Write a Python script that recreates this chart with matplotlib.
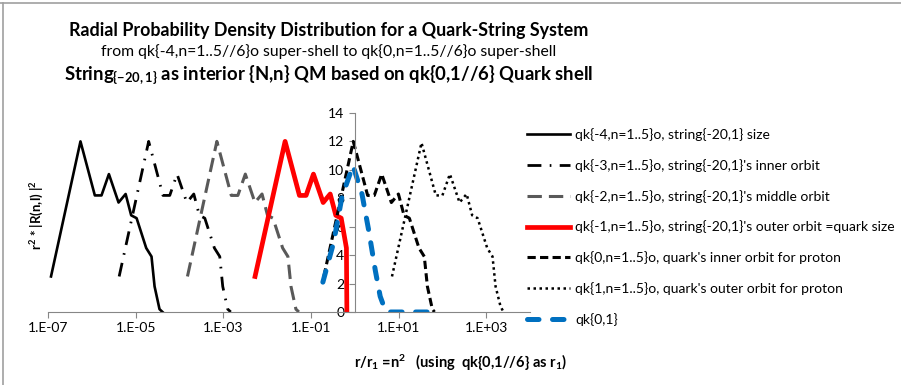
import matplotlib
matplotlib.use("Agg")
import matplotlib.pyplot as plt
from matplotlib.ticker import FixedLocator, FixedFormatter, NullLocator
from matplotlib.lines import Line2D

plt.rcParams['font.family'] = ['Lato', 'DejaVu Sans']
plt.rcParams['mathtext.fontset'] = 'custom'
plt.rcParams['mathtext.rm'] = 'Lato'
plt.rcParams['mathtext.bf'] = 'Lato:bold'
plt.rcParams['mathtext.it'] = 'Lato:italic'

# data
x_qk_m4 = [1.17e-7, 5.5e-7, 1.17e-6, 1.66e-6, 2.45e-6, 4.07e-6, 5.9e-6,
           7.9e-6, 1.05e-5, 1.74e-5, 2.3e-5, 2.7e-5, 3.5e-5, 4.1e-5]
y_qk_m4 = [2.5, 12.0, 8.2, 8.2, 9.7, 7.7, 8.3, 6.8, 6.6, 4.5, 3.9, 1.8, 0.2, 0.0]

x_qk_m3 = [4.2e-6, 1.98e-5, 4.2e-5, 6.0e-5, 8.8e-5, 1.47e-4, 2.12e-4,
           2.84e-4, 3.78e-4, 6.26e-4, 8.3e-4, 9.7e-4, 1.26e-3, 1.48e-3]
y_qk_m3 = [2.5, 12.0, 8.2, 8.2, 9.7, 7.7, 8.3, 6.8, 6.6, 4.5, 3.9, 1.8, 0.2, 0.0]

x_qk_m2 = [1.52e-4, 7.13e-4, 1.52e-3, 2.15e-3, 3.18e-3, 5.27e-3, 7.65e-3,
           1.02e-2, 1.36e-2, 2.26e-2, 2.98e-2, 3.5e-2, 4.54e-2, 5.31e-2]
y_qk_m2 = [2.5, 12.0, 8.2, 8.2, 9.7, 7.7, 8.3, 6.8, 6.6, 4.5, 3.9, 1.8, 0.2, 0.0]

x_qk_m1 = [5.3e-3, 2.57e-2, 5.46e-2, 7.74e-2, 0.114, 0.190, 0.275, 0.369,
           0.490, 0.645, 0.66]
y_qk_m1 = [2.5, 12.0, 8.2, 8.2, 9.7, 7.7, 8.3, 6.8, 6.6, 4.5, 0.0]

x_qk_0 = [0.197, 0.924, 1.965, 2.79, 4.12, 6.84, 9.91, 13.3, 17.6, 29.2,
          38.6, 45.4, 58.8, 66.0]
y_qk_0 = [2.5, 12.0, 8.2, 8.2, 9.7, 7.7, 8.3, 6.8, 6.6, 4.5, 3.9, 1.8, 0.2, 0.0]

x_qk_1 = [7.07, 33.3, 70.7, 100, 148, 246, 357, 478, 635, 1052, 1391,
          1633, 2116, 2479]
y_qk_1 = [2.5, 11.9, 8.2, 8.2, 9.7, 7.7, 8.3, 6.8, 6.6, 4.5, 3.9, 1.8, 0.4, 0.0]

x_qk01 = [0.187, 0.33, 0.51, 0.91, 1.46, 2.09, 2.95, 3.8, 5.0, 6.5, 48]
y_qk01 = [2.1, 4.9, 8.1, 10.3, 8.3, 5.7, 2.9, 1.1, 0.1, 0.0, 0.0]

labels = [
    "qk{-4,n=1..5}o, string{-20,1} size",
    "qk{-3,n=1..5}o, string{-20,1}'s inner orbit",
    "qk{-2,n=1..5}o, string{-20,1}'s middle orbit",
    "qk{-1,n=1..5}o, string{-20,1}'s outer orbit =quark size",
    "qk{0,n=1..5}o, quark's inner orbit for proton",
    "qk{1,n=1..5}o, quark's outer orbit for proton",
    "qk{0,1}",
]

x_ticks = [1e-7, 1e-5, 1e-3, 1e-1, 1e1, 1e3]
x_tick_labels = ["1.E-07", "1.E-05", "1.E-03", "1.E-01", "1.E+01", "1.E+03"]
y_ticks = [0, 2, 4, 6, 8, 10, 12, 14]


def main():
    fig = plt.figure(figsize=(9.01, 3.85), dpi=100)
    ax = fig.add_axes([0.0533, 0.1896, 0.535, 0.517])

    ax.plot(x_qk_m4, y_qk_m4, color='black', lw=1.9, label=labels[0])
    ax.plot(x_qk_m3, y_qk_m3, color='black', lw=2.0,
            dashes=(5, 3, 0.6, 3), label=labels[1])
    ax.plot(x_qk_m2, y_qk_m2, color='#595959', lw=2.2,
            dashes=(4.7, 2.3), label=labels[2])
    ax.plot(x_qk_m1, y_qk_m1, color='#ff0000', lw=3.4, label=labels[3])
    ax.plot(x_qk_0, y_qk_0, color='black', lw=2.2,
            dashes=(2.7, 1.4), label=labels[4])
    ax.plot(x_qk_1, y_qk_1, color='black', lw=1.8,
            dashes=(1, 1.4), label=labels[5])
    ax.plot(x_qk01, y_qk01, color='#0070c0', lw=3.6,
            dashes=(2.3, 2.7), dash_capstyle='round', label=labels[6])

    ax.set_xscale('log')
    ax.set_xlim(1e-7, 1e4)
    ax.set_ylim(0, 14)

    for s in ['top', 'right']:
        ax.spines[s].set_visible(False)
    ax.spines['left'].set_position(('data', 1))
    ax.spines['left'].set_color('#868686')
    ax.spines['bottom'].set_color('#868686')

    ax.xaxis.set_major_locator(FixedLocator(x_ticks))
    ax.xaxis.set_major_formatter(FixedFormatter(x_tick_labels))
    ax.xaxis.set_minor_locator(NullLocator())
    ax.set_yticks(y_ticks)
    ax.tick_params(axis='both', colors='#868686', labelcolor='black',
                   labelsize=10, length=4, width=0.8, direction='out')

    fig.text(0.041, 0.44, r"r$^\mathbf{2}$ * |R(n,l) |$^\mathbf{2}$",
             rotation=90, ha='center', va='center', fontsize=9.5,
             fontweight='bold')
    fig.text(0.511, 0.057,
             r"r/r$_\mathbf{1}$ =n$^\mathbf{2}$   (using  qk{0,1//6} as r$_\mathbf{1}$)",
             ha='center', va='center', fontsize=10.5, fontweight='bold')

    fig.text(0.3645, 0.922,
             "Radial Probability Density Distribution for a Quark-String System",
             ha='center', va='center', fontsize=12.9, fontweight='bold')
    fig.text(0.3645, 0.865,
             "from qk{-4,n=1..5//6}o super-shell to qk{0,n=1..5//6}o super-shell",
             ha='center', va='center', fontsize=11.3)
    fig.text(0.3645, 0.805,
             r"String$_\mathbf{\{-20,1\}}$ as interior {N,n} QM based on qk{0,1//6} Quark shell",
             ha='center', va='center', fontsize=13.3, fontweight='bold')

    ax.legend(loc='upper left', bbox_to_anchor=(0.585, 0.667),
              bbox_transform=fig.transFigure, frameon=False, fontsize=10,
              handlelength=3.1, handletextpad=0.35, labelspacing=1.28,
              borderpad=0, borderaxespad=0)

    # chart area border (top and left visible in the screenshot)
    fig.add_artist(Line2D([0, 1], [0.993, 0.993], transform=fig.transFigure,
                          color='#a0a0a0', lw=1.2))
    fig.add_artist(Line2D([0.003, 0.003], [0, 0.993], transform=fig.transFigure,
                          color='#a0a0a0', lw=1.2))

    fig.savefig('out.png', dpi=100)


if __name__ == '__main__':
    main()
